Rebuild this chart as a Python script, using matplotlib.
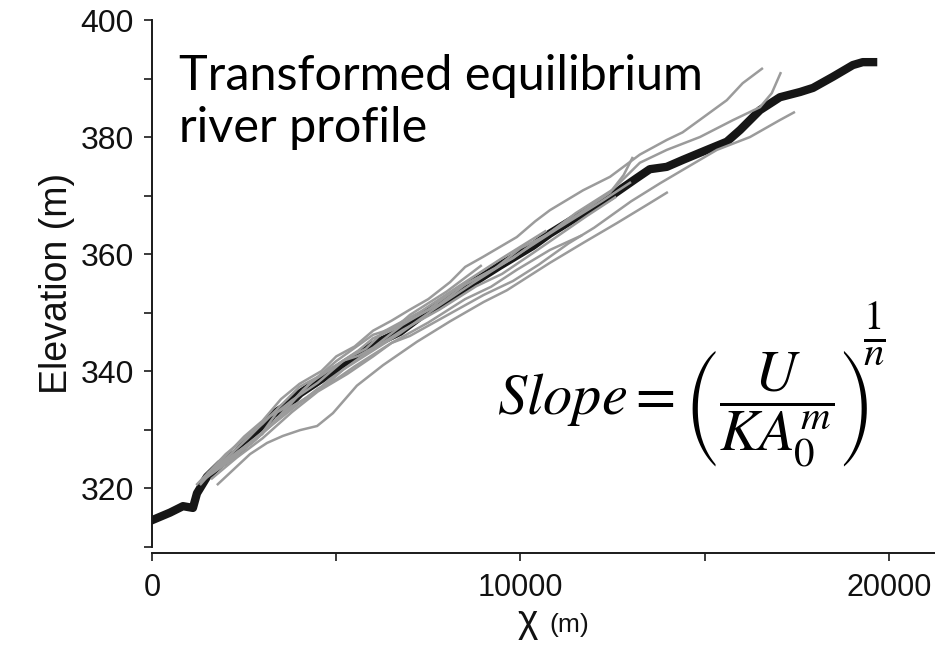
import matplotlib
matplotlib.use("Agg")
import matplotlib.pyplot as plt

# ---- data ----
main_x = [0, 490, 840, 1110, 1220, 1490, 1850, 2300, 2660, 2930, 3280, 3750, 4020, 4830, 5290,
          6100, 6730, 7360, 7900, 8540, 9440, 10340, 10800, 11700, 12430, 13160, 13510, 13970,
          14410, 15060, 15600, 15960, 16500, 17040, 17590, 17940, 18480, 19020, 19290, 19570]
main_y = [314.5, 315.8, 316.9, 316.6, 319.1, 321.9, 324.1, 326.0, 328.5, 329.6, 332.6, 334.5,
          336.2, 339.6, 341.5, 344.8, 346.7, 349.7, 351.6, 354.4, 358.0, 361.4, 363.5, 367.0,
          369.8, 373.0, 374.5, 374.9, 376.1, 377.8, 379.2, 381.2, 384.6, 386.8, 387.7, 388.4,
          390.3, 392.3, 392.8, 392.8]

g1_x = [1300, 2000, 2500, 3000, 3500, 4000, 4600, 5000, 5500, 6000, 6500, 7000, 7500, 8090, 8500, 8980, 9900, 10400, 10800, 11700, 12430, 13240, 13970, 14400, 14860, 15600, 16030, 16580]
g1_y = [320.5, 325.5, 328.8, 331.5, 335.2, 337.8, 340.0, 342.5, 344.2, 346.9, 348.6, 350.5, 352.3, 355.2, 357.8, 359.5, 362.9, 365.6, 367.5, 370.9, 373.2, 377.0, 379.5, 380.8, 382.9, 386.3, 389.2, 391.8]

g2_x = [1400, 2000, 2600, 3200, 3700, 4100, 4600, 5000, 5600, 6000, 6500, 7000, 7800, 8500, 9300, 10000, 10700, 11500, 12500, 13240, 13970, 14870, 15770, 16500, 16820, 17070]
g2_y = [321.5, 325.0, 328.5, 332.3, 334.0, 336.8, 339.5, 341.0, 343.5, 345.6, 347.0, 348.8, 351.4, 354.8, 357.5, 361.0, 363.2, 367.0, 371.0, 375.6, 377.8, 380.0, 382.9, 385.1, 387.5, 391.1]

g3_x = [1500, 2200, 3000, 3400, 3800, 4500, 5200, 5600, 6000, 6800, 7500, 8200, 9000, 9800, 10500, 11500, 12430, 12800, 13050]
g3_y = [322.0, 325.5, 329.5, 333.0, 335.0, 338.0, 341.8, 342.6, 344.0, 347.9, 350.5, 353.8, 356.5, 359.3, 362.5, 366.5, 370.5, 373.5, 376.6]

g4_x = [1600, 2300, 3000, 3800, 4500, 5300, 6000, 6500, 7000, 8000, 9000, 9800, 10500, 11300, 12000, 13000, 13790, 14410, 15330, 16230, 17040, 17450]
g4_y = [321.5, 325.2, 328.5, 333.0, 336.5, 339.5, 342.5, 344.8, 346.0, 349.5, 353.0, 355.4, 358.2, 361.8, 364.5, 369.0, 372.1, 374.4, 377.8, 380.0, 382.9, 384.3]

g5_x = [1760, 2660, 3120, 3550, 4020, 4480, 4910, 5560, 6270, 7190, 8090, 9000, 9630, 10800, 11700, 12620, 13510, 14000]
g5_y = [320.5, 325.8, 327.7, 328.9, 329.9, 330.6, 332.8, 337.5, 341.0, 345.0, 348.5, 351.8, 353.8, 358.5, 361.9, 365.3, 368.7, 370.6]

g6_x = [1500, 2500, 3500, 4500, 5000, 5500, 6500, 7500, 8500, 9200, 9900, 10800, 11670]
g6_y = [322.5, 327.0, 332.0, 337.0, 338.6, 340.8, 344.8, 348.3, 352.3, 354.4, 357.3, 360.7, 363.2]

g7_x = [1200, 2000, 3000, 4000, 4500, 5000, 6000, 6600, 7000, 8000, 8950]
g7_y = [320.5, 325.8, 331.0, 337.3, 339.0, 341.7, 346.2, 347.4, 349.6, 353.6, 358.1]

g8_x = [1800, 2800, 3800, 4300, 4800, 5800, 6800, 7800, 8800, 9500, 10300, 11800, 12600]
g8_y = [323.5, 328.2, 334.0, 335.6, 338.5, 343.0, 347.0, 350.5, 354.5, 356.6, 360.0, 366.5, 369.8]

g9_x = [1300, 2200, 3300, 4300, 5300, 5800, 6300, 7300, 8300, 9500, 10700]
g9_y = [321.0, 325.0, 331.3, 338.0, 342.2, 343.8, 346.8, 350.2, 354.4, 359.3, 364.0]

g10_x = [1700, 2700, 3700, 4700, 5200, 5700, 6700, 7700, 8700, 9700, 11000, 12200, 13000]
g10_y = [323.0, 327.6, 333.5, 337.5, 340.3, 342.3, 346.3, 350.8, 355.0, 359.0, 364.3, 369.0, 372.3]

gray_series = [(g1_x, g1_y), (g2_x, g2_y), (g3_x, g3_y), (g4_x, g4_y), (g5_x, g5_y),
               (g6_x, g6_y), (g7_x, g7_y), (g8_x, g8_y), (g9_x, g9_y), (g10_x, g10_y)]

x_ticks_major = [0, 10000, 20000]
x_ticks_minor = [5000, 15000]
y_ticks_major = [320, 340, 360, 380, 400]
y_ticks_minor = [310, 330, 350, 370, 390]

# ---- figure ----
plt.rcParams['font.family'] = ['Liberation Sans', 'DejaVu Sans']
plt.rcParams['mathtext.fontset'] = 'stix'

fig = plt.figure(figsize=(9.35, 6.46), dpi=100)
ax = fig.add_axes([0.1626, 0.154, 0.8374, 0.815])

ax.plot(main_x, main_y, color='#161616', lw=6.0, solid_joinstyle='round', zorder=2)
for gx, gy in gray_series:
    ax.plot(gx, gy, color='#9b9b9b', lw=1.8, solid_capstyle='butt', zorder=3)

ax.set_xlim(0, 21250)
ax.set_ylim(310, 400)

for s in ['top', 'right']:
    ax.spines[s].set_visible(False)
ax.spines['left'].set_bounds(310, 400)
ax.spines['bottom'].set_position(('outward', 5))
for s in ['left', 'bottom']:
    ax.spines[s].set_linewidth(1.4)
    ax.spines[s].set_color('#1a1a1a')

ax.set_xticks(x_ticks_major)
ax.set_xticks(x_ticks_minor, minor=True)
ax.set_yticks(y_ticks_major)
ax.set_yticks(y_ticks_minor, minor=True)
ax.set_xticklabels([str(v) for v in x_ticks_major])
ax.set_yticklabels([str(v) for v in y_ticks_major])
ax.tick_params(which='both', direction='out', length=6, width=1.2, color='#1a1a1a')
ax.tick_params(axis='y', which='major', labelsize=23, pad=7, labelcolor='#111111')
ax.tick_params(axis='x', which='major', labelsize=22, pad=8, labelcolor='#111111')

ax.set_ylabel('Elevation (m)', fontsize=27, labelpad=4, color='#111111')

fig.text(528 / 935, 1 - 622 / 646, 'χ', fontsize=28, ha='center', va='center', color='#111111')
fig.text(569 / 935, 1 - 625 / 646, '(m)', fontsize=19, ha='center', va='center', color='#111111')

ax.text(0.035, 0.935, 'Transformed equilibrium\nriver profile', transform=ax.transAxes,
        fontsize=35, family='Lato', ha='left', va='top', linespacing=1.22, color='#000000')

ax.text(0.44, 0.25, r'$Slope = \left(\dfrac{U}{KA_0^m}\right)$',
        transform=ax.transAxes, fontsize=42, ha='left', va='baseline', color='#000000')
ax.text(0.923, 0.405, r'$\frac{1}{n}$',
        transform=ax.transAxes, fontsize=42, ha='center', va='center', color='#000000')

fig.savefig('out.png', dpi=100)
